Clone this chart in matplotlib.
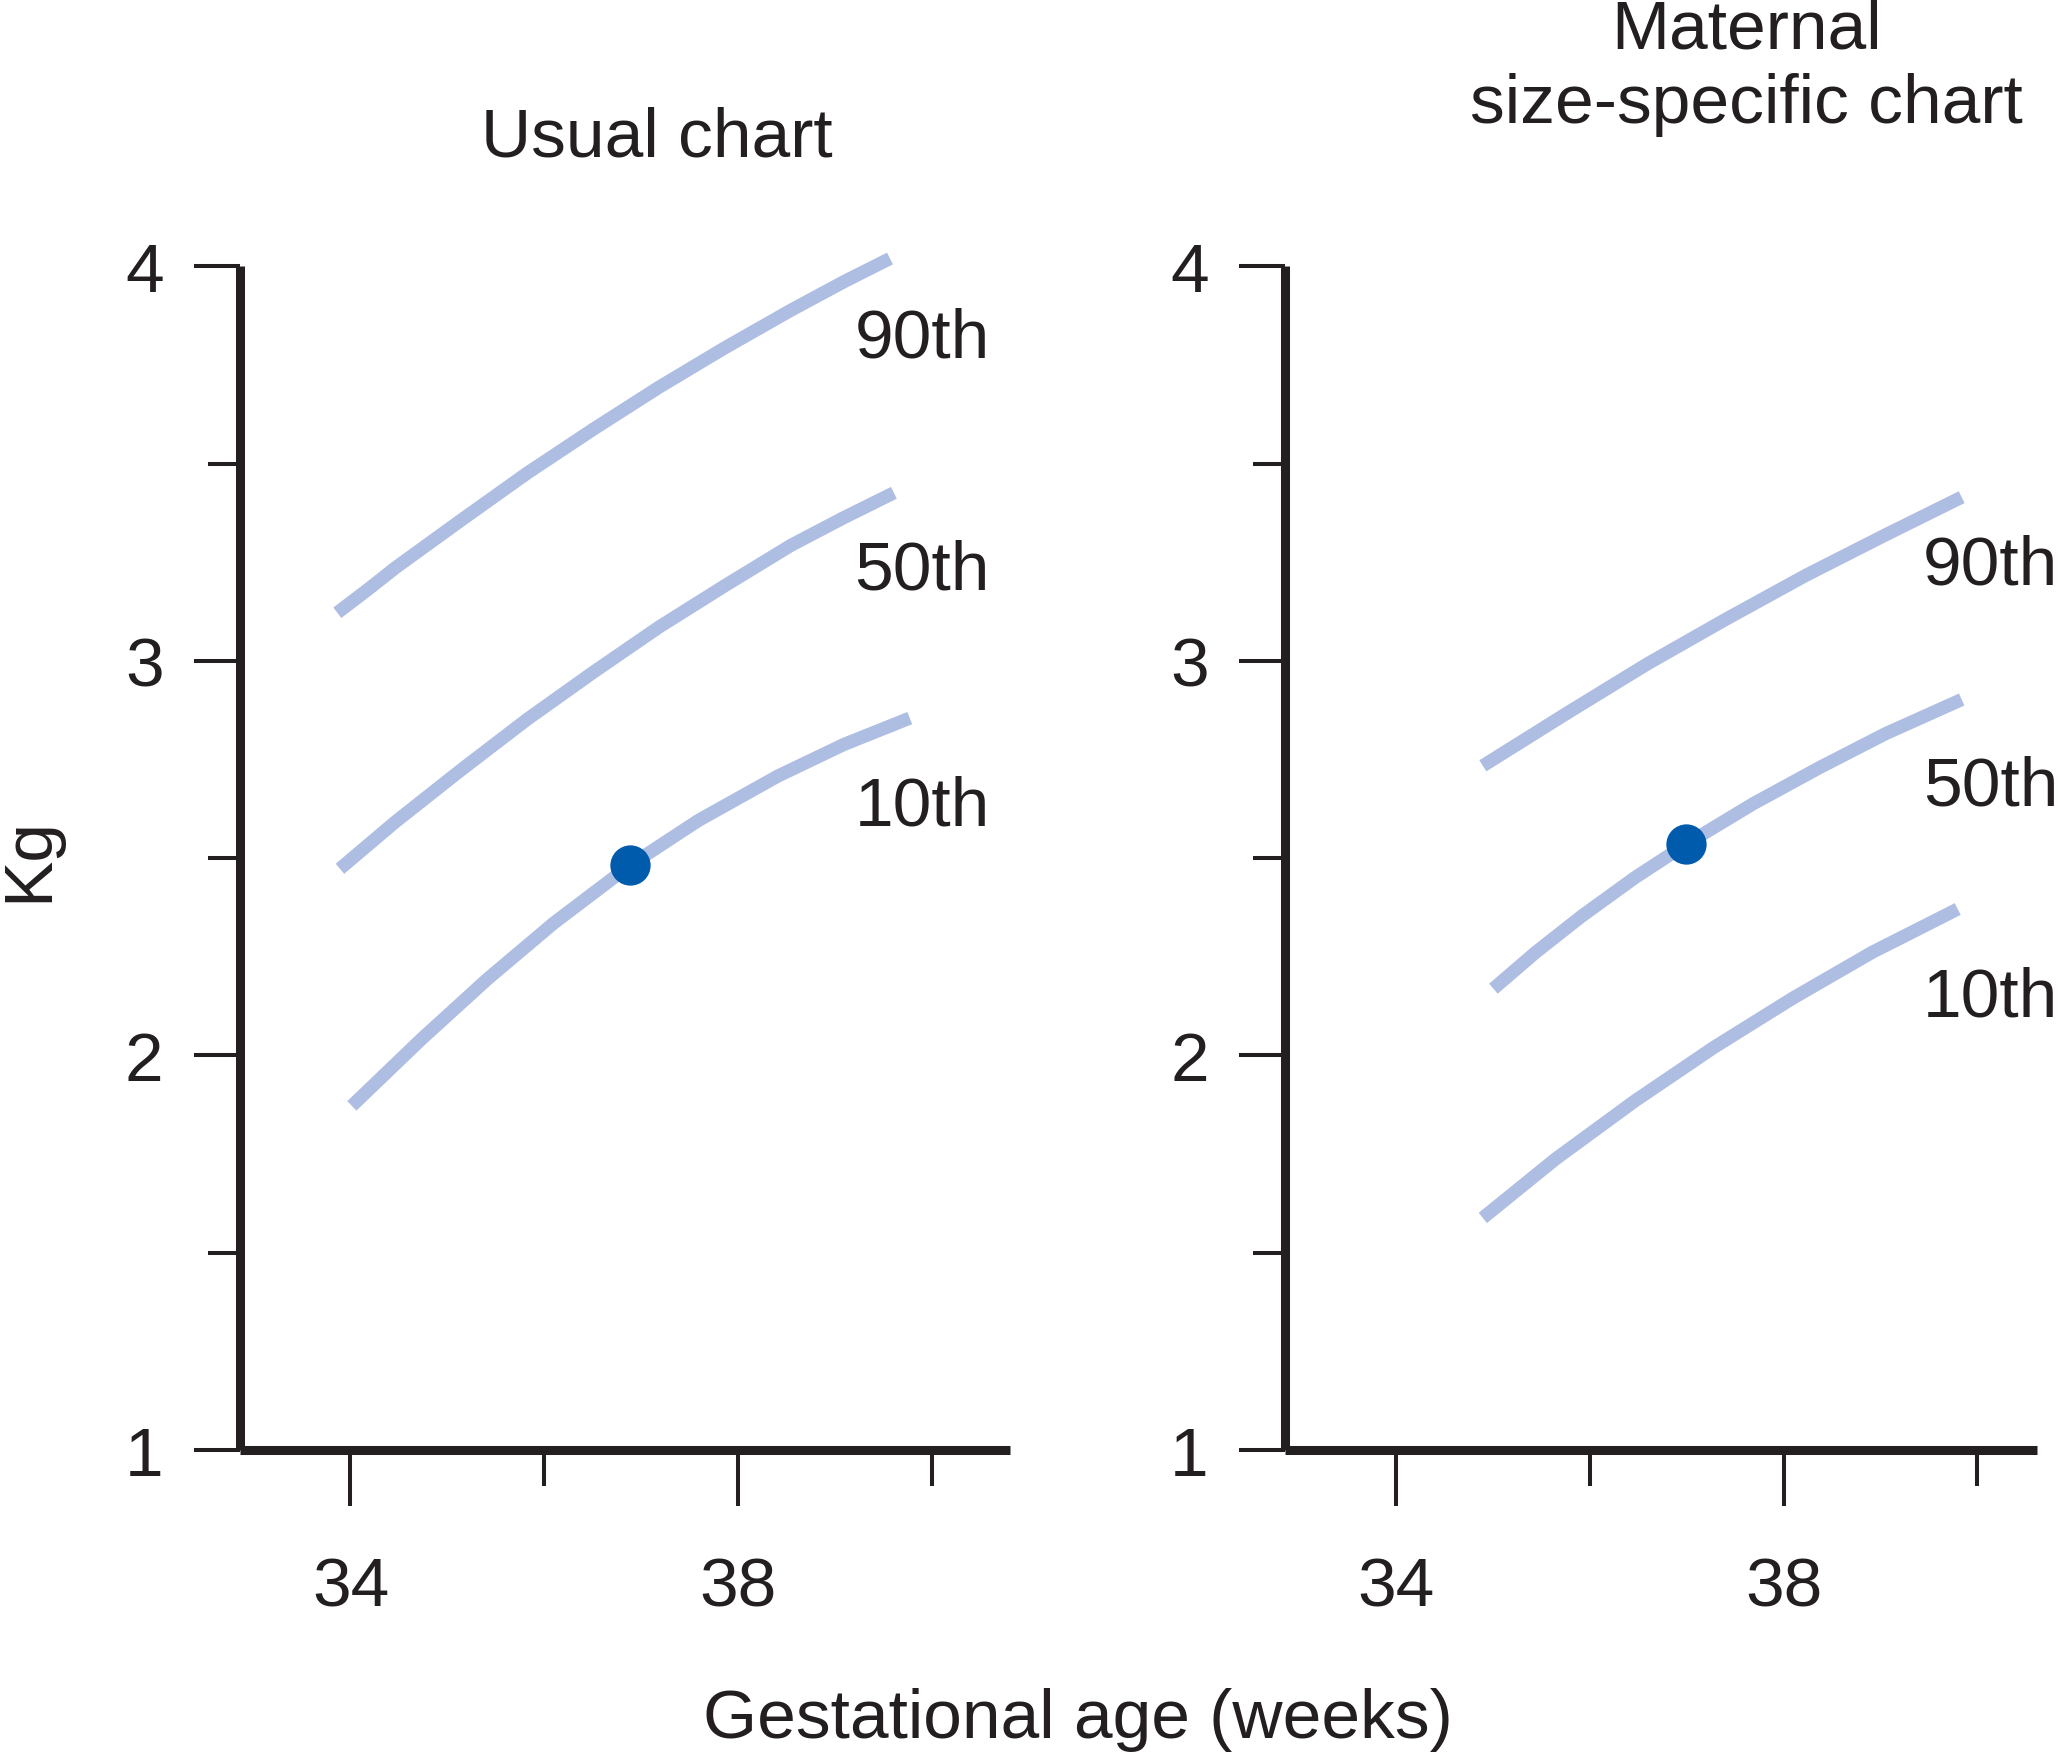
import numpy as np
import matplotlib.pyplot as plt
from matplotlib.ticker import MultipleLocator, FixedLocator

plt.rcParams['font.family'] = ['Liberation Sans', 'DejaVu Sans']
INK = '#231f20'
CURVE = '#aebee3'
DOT = '#005bac'

# usual chart (weeks, kg)
usual_x_90 = [33.864, 34.190, 34.463, 35.143, 35.823, 36.503, 37.184, 37.864, 38.544, 39.088, 39.565]
usual_y_90 = [3.122, 3.183, 3.236, 3.357, 3.476, 3.587, 3.694, 3.794, 3.889, 3.961, 4.020]
usual_x_50 = [33.891, 34.463, 35.143, 35.823, 36.503, 37.184, 37.864, 38.544, 39.088, 39.605]
usual_y_50 = [2.473, 2.592, 2.724, 2.852, 2.971, 3.086, 3.191, 3.293, 3.363, 3.426]
usual_x_10 = [34.014, 34.735, 35.415, 36.095, 36.884, 37.592, 38.408, 39.088, 39.769]
usual_y_10 = [1.872, 2.042, 2.194, 2.335, 2.482, 2.596, 2.708, 2.788, 2.855]
usual_dot = (36.884, 2.482)

# maternal size-specific chart
mat_x_90 = [34.898, 35.782, 36.599, 37.415, 38.231, 39.048, 39.837]
mat_y_90 = [2.734, 2.870, 2.993, 3.107, 3.217, 3.319, 3.415]
mat_x_50 = [35.007, 35.442, 35.918, 36.463, 36.993, 37.687, 38.367, 39.048, 39.837]
mat_y_50 = [2.169, 2.261, 2.353, 2.450, 2.535, 2.638, 2.729, 2.815, 2.902]
mat_x_10 = [34.898, 35.646, 36.463, 37.279, 38.095, 38.912, 39.796]
mat_y_10 = [1.588, 1.737, 1.884, 2.020, 2.145, 2.261, 2.371]
mat_dot = (36.993, 2.535)

pct_labels = ['90th', '50th', '10th']
usual_label_y = [3.817, 3.229, 2.630]
mat_label_y = [3.242, 2.681, 2.146]

y_ticks = [1, 2, 3, 4]
x_ticks = [34, 38]

fig = plt.figure(figsize=(20.67, 17.58), dpi=100)
ax1 = fig.add_axes([0.1161, 0.1747, 0.3724, 0.6732])
ax2 = fig.add_axes([0.6218, 0.1747, 0.3635, 0.6732])


def style_axes(ax, xmax):
    ax.set_xlim(32.86, xmax)
    ax.set_ylim(1, 4)
    for s in ['top', 'right']:
        ax.spines[s].set_visible(False)
    for s in ['left', 'bottom']:
        ax.spines[s].set_linewidth(6.5)
        ax.spines[s].set_color(INK)
        ax.spines[s].set_capstyle('butt')
    ax.yaxis.set_major_locator(FixedLocator(y_ticks))
    ax.yaxis.set_minor_locator(MultipleLocator(0.5))
    ax.xaxis.set_major_locator(FixedLocator(x_ticks))
    ax.xaxis.set_minor_locator(FixedLocator([36, 40]))
    ax.tick_params(axis='both', which='both', direction='out', width=2.9,
                   color=INK, labelcolor=INK, labelsize=50)
    ax.tick_params(axis='y', which='major', length=33, pad=22)
    ax.tick_params(axis='y', which='minor', length=23)
    ax.tick_params(axis='x', which='major', length=40, pad=36)
    ax.tick_params(axis='x', which='minor', length=26)


def draw_curves(ax, curves, dot, label_x, label_ys):
    for xs, ys in curves:
        ax.plot(xs, ys, color=CURVE, lw=9.5, solid_capstyle='butt',
                solid_joinstyle='round', clip_on=False, zorder=2)
    ax.plot([dot[0]], [dot[1]], 'o', color=DOT, ms=29, mew=0, zorder=3)
    for lab, ly in zip(pct_labels, label_ys):
        ax.text(label_x, ly, lab, fontsize=50, color=INK, ha='left',
                va='center', clip_on=False)


style_axes(ax1, 40.80)
style_axes(ax2, 40.61)

draw_curves(ax1, [(usual_x_90, usual_y_90), (usual_x_50, usual_y_50),
                  (usual_x_10, usual_y_10)], usual_dot, 39.20, usual_label_y)
# right-hand labels pulled in slightly so they stay inside the canvas
draw_curves(ax2, [(mat_x_90, mat_y_90), (mat_x_50, mat_y_50),
                  (mat_x_10, mat_y_10)], mat_dot, 39.44, mat_label_y)

fig.text(0.3176, 0.9213, 'Usual chart', fontsize=50, color=INK,
         ha='center', va='center')
fig.text(0.845, 0.9614, 'Maternal\nsize-specific chart', fontsize=50,
         color=INK, ha='center', va='center', linespacing=1.22)
fig.text(0.5217, 0.0217, 'Gestational age (weeks)', fontsize=50,
         color=INK, ha='center', va='center')
fig.text(0.014, 0.511, 'Kg', fontsize=50, color=INK, ha='center',
         va='center', rotation=90)

fig.savefig('out.png', dpi=100)
